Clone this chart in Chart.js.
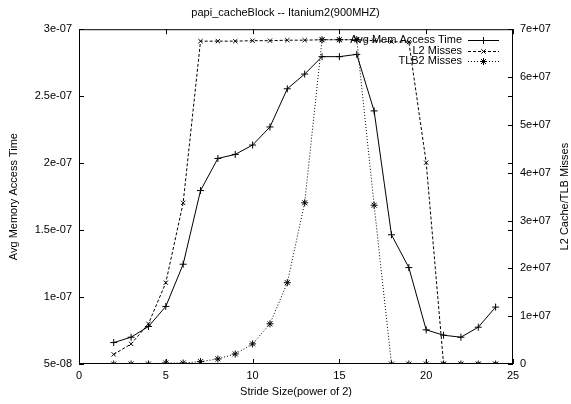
<!DOCTYPE html>
<html>
<head>
<meta charset="utf-8">
<script src="https://cdn.jsdelivr.net/npm/chart.js@4/dist/chart.umd.min.js"></script>
<style>
  html, body { margin: 0; padding: 0; background: #fff; }
  #wrap { width: 571px; height: 404px; }
</style>
</head>
<body>
<div id="wrap"><canvas id="grafica"></canvas></div>
<script>
// datos
const stride = [2, 3, 4, 5, 6, 7, 8, 9, 10, 11, 12, 13, 14, 15, 16, 17, 18, 19, 20, 21, 22, 23, 24];
const avgMemTime = [6.6e-8, 7.0e-8, 7.8e-8, 9.3e-8, 1.245e-7, 1.795e-7, 2.035e-7, 2.065e-7, 2.135e-7, 2.27e-7,
    2.555e-7, 2.665e-7, 2.795e-7, 2.795e-7, 2.812e-7, 2.39e-7, 1.465e-7, 1.22e-7, 7.55e-8, 7.15e-8, 7.0e-8, 7.75e-8, 9.25e-8];
const l2Misses = [2.0e6, 4.2e6, 8.4e6, 1.7e7, 3.37e7, 6.75e7, 6.75e7, 6.75e7, 6.76e7, 6.76e7,
    6.77e7, 6.77e7, 6.78e7, 6.78e7, 6.78e7, 6.76e7, 6.74e7, 6.73e7, 4.21e7, 0, 0, 0, 0];
const tlb2Misses = [0, 0, 0, 2e5, 2e5, 5e5, 1.05e6, 2.1e6, 4.2e6, 8.4e6,
    1.7e7, 3.37e7, 6.78e7, 6.78e7, 6.78e7, 3.32e7, 0, 0, 0, 0, 0, 0, 0];

const xTicks = [0, 5, 10, 15, 20, 25];
const leftTicks = [5e-8, 1e-7, 1.5e-7, 2e-7, 2.5e-7, 3e-7];
const leftTickLabels = ['5e-08', '1e-07', '1.5e-07', '2e-07', '2.5e-07', '3e-07'];
const rightTicks = [0, 1e7, 2e7, 3e7, 4e7, 5e7, 6e7, 7e7];
const rightTickLabels = ['0', '1e+07', '2e+07', '3e+07', '4e+07', '5e+07', '6e+07', '7e+07'];

const titulo = 'papi_cacheBlock -- Itanium2(900MHZ)';
const tituloDerecho = 'L2 Cache/TLB Misses';
const fuente = { family: '"Liberation Sans", Arial, sans-serif', size: 11, weight: 'normal' };

const puntos = (vals) => stride.map((x, i) => ({ x: x, y: vals[i] }));

// marco y marcas hacia adentro, estilo gnuplot
const marcoPlugin = {
    id: 'marco',
    afterDatasetsDraw(chart) {
        const { ctx, chartArea: a, scales } = chart;
        const largo = 5;
        ctx.save();
        ctx.strokeStyle = '#000';
        ctx.lineWidth = 1;
        ctx.setLineDash([]);
        ctx.strokeRect(a.left + 0.5, a.top + 0.5, a.right - a.left - 1, a.bottom - a.top - 1);
        ctx.beginPath();
        xTicks.forEach(v => {
            const px = Math.round(scales.x.getPixelForValue(v)) + 0.5;
            ctx.moveTo(px, a.bottom); ctx.lineTo(px, a.bottom - largo);
            ctx.moveTo(px, a.top); ctx.lineTo(px, a.top + largo);
        });
        leftTicks.forEach(v => {
            const py = Math.round(scales.y.getPixelForValue(v)) + 0.5;
            ctx.moveTo(a.left, py); ctx.lineTo(a.left + largo, py);
            ctx.moveTo(a.right, py); ctx.lineTo(a.right - largo, py);
        });
        rightTicks.forEach(v => {
            const py = Math.round(scales.y2.getPixelForValue(v)) + 0.5;
            ctx.moveTo(a.right, py); ctx.lineTo(a.right - largo, py);
        });
        ctx.stroke();
        ctx.restore();
    }
};

// leyenda dentro del area y titulo derecho girado como en gnuplot
const leyendaPlugin = {
    id: 'leyendaGnu',
    afterDraw(chart) {
        const { ctx, chartArea: a } = chart;
        const textoX = a.right - 51;
        const lineaIni = a.right - 45;
        const lineaFin = a.right - 14;
        ctx.save();
        ctx.font = `${fuente.size}px ${fuente.family}`;
        ctx.textAlign = 'right';
        ctx.textBaseline = 'middle';
        ctx.fillStyle = '#000';
        chart.data.datasets.forEach((ds, i) => {
            const y = a.top + 10.5 + i * 10.8;
            ctx.fillText(ds.label, textoX, y);
            ctx.strokeStyle = '#000';
            ctx.lineWidth = 1;
            ctx.setLineDash(ds.borderDash || []);
            ctx.beginPath();
            ctx.moveTo(lineaIni, Math.round(y) + 0.5);
            ctx.lineTo(lineaFin, Math.round(y) + 0.5);
            ctx.stroke();
            ctx.setLineDash([]);
            Chart.helpers.drawPoint(ctx, {
                pointStyle: ds.pointStyle,
                radius: ds.pointRadius,
                borderWidth: 1
            }, (lineaIni + lineaFin) / 2, Math.round(y) + 0.5);
        });

        ctx.translate(chart.width - 6, (a.top + a.bottom) / 2);
        ctx.rotate(-Math.PI / 2);
        ctx.textAlign = 'center';
        ctx.fillText(tituloDerecho, 0, 0);
        ctx.restore();
    }
};

const canvas = document.getElementById('grafica');
const context = canvas.getContext('2d');

const grafica = new Chart(context, {
    type: 'line',
    data: {
        datasets: [
            {
                label: 'Avg Mem Access Time',
                data: puntos(avgMemTime),
                yAxisID: 'y',
                borderColor: '#000',
                backgroundColor: '#000',
                borderWidth: 1,
                pointStyle: 'cross',
                pointRadius: 3.5,
                pointBorderWidth: 1,
                tension: 0
            },
            {
                label: 'L2 Misses',
                data: puntos(l2Misses),
                yAxisID: 'y2',
                borderColor: '#000',
                backgroundColor: '#000',
                borderWidth: 1,
                borderDash: [3, 2],
                pointStyle: 'crossRot',
                pointRadius: 3,
                pointBorderWidth: 1,
                tension: 0
            },
            {
                label: 'TLB2 Misses',
                data: puntos(tlb2Misses),
                yAxisID: 'y2',
                borderColor: '#000',
                backgroundColor: '#000',
                borderWidth: 1,
                borderDash: [1, 2],
                pointStyle: 'star',
                pointRadius: 3.5,
                pointBorderWidth: 1,
                tension: 0
            }
        ]
    },
    options: {
        responsive: true,
        maintainAspectRatio: false,
        animation: false,
        layout: { padding: 0 },
        plugins: {
            legend: { display: false },
            tooltip: { enabled: false },
            title: {
                display: true,
                text: titulo,
                color: '#000',
                font: fuente,
                padding: { top: 6, bottom: 10 }
            }
        },
        scales: {
            x: {
                type: 'linear',
                min: 0,
                max: 25,
                afterBuildTicks: (s) => { s.ticks = xTicks.map(v => ({ value: v })); },
                afterFit: (s) => { s.height = 40; },
                grid: { display: false, drawTicks: false },
                border: { display: false },
                ticks: { color: '#000', font: fuente, padding: 5, maxRotation: 0 },
                title: {
                    display: true,
                    text: 'Stride Size(power of 2)',
                    color: '#000',
                    font: fuente,
                    padding: { top: 0, bottom: 5 }
                }
            },
            y: {
                type: 'linear',
                position: 'left',
                min: 5e-8,
                max: 3e-7,
                afterBuildTicks: (s) => { s.ticks = leftTicks.map(v => ({ value: v })); },
                afterFit: (s) => { s.width = 79; },
                grid: { display: false, drawTicks: false },
                border: { display: false },
                ticks: {
                    color: '#000',
                    font: fuente,
                    padding: 7,
                    callback: (v, i) => leftTickLabels[i]
                },
                title: {
                    display: true,
                    text: 'Avg Memory Access Time',
                    color: '#000',
                    font: fuente,
                    padding: { top: 7, bottom: 0 }
                }
            },
            y2: {
                type: 'linear',
                position: 'right',
                min: 0,
                max: 7e7,
                afterBuildTicks: (s) => { s.ticks = rightTicks.map(v => ({ value: v })); },
                afterFit: (s) => { s.width = 58; },
                grid: { display: false, drawTicks: false },
                border: { display: false },
                ticks: {
                    color: '#000',
                    font: fuente,
                    padding: 7,
                    callback: (v, i) => rightTickLabels[i]
                },
                title: { display: false }
            }
        }
    },
    plugins: [marcoPlugin, leyendaPlugin]
});
</script>
</body>
</html>
